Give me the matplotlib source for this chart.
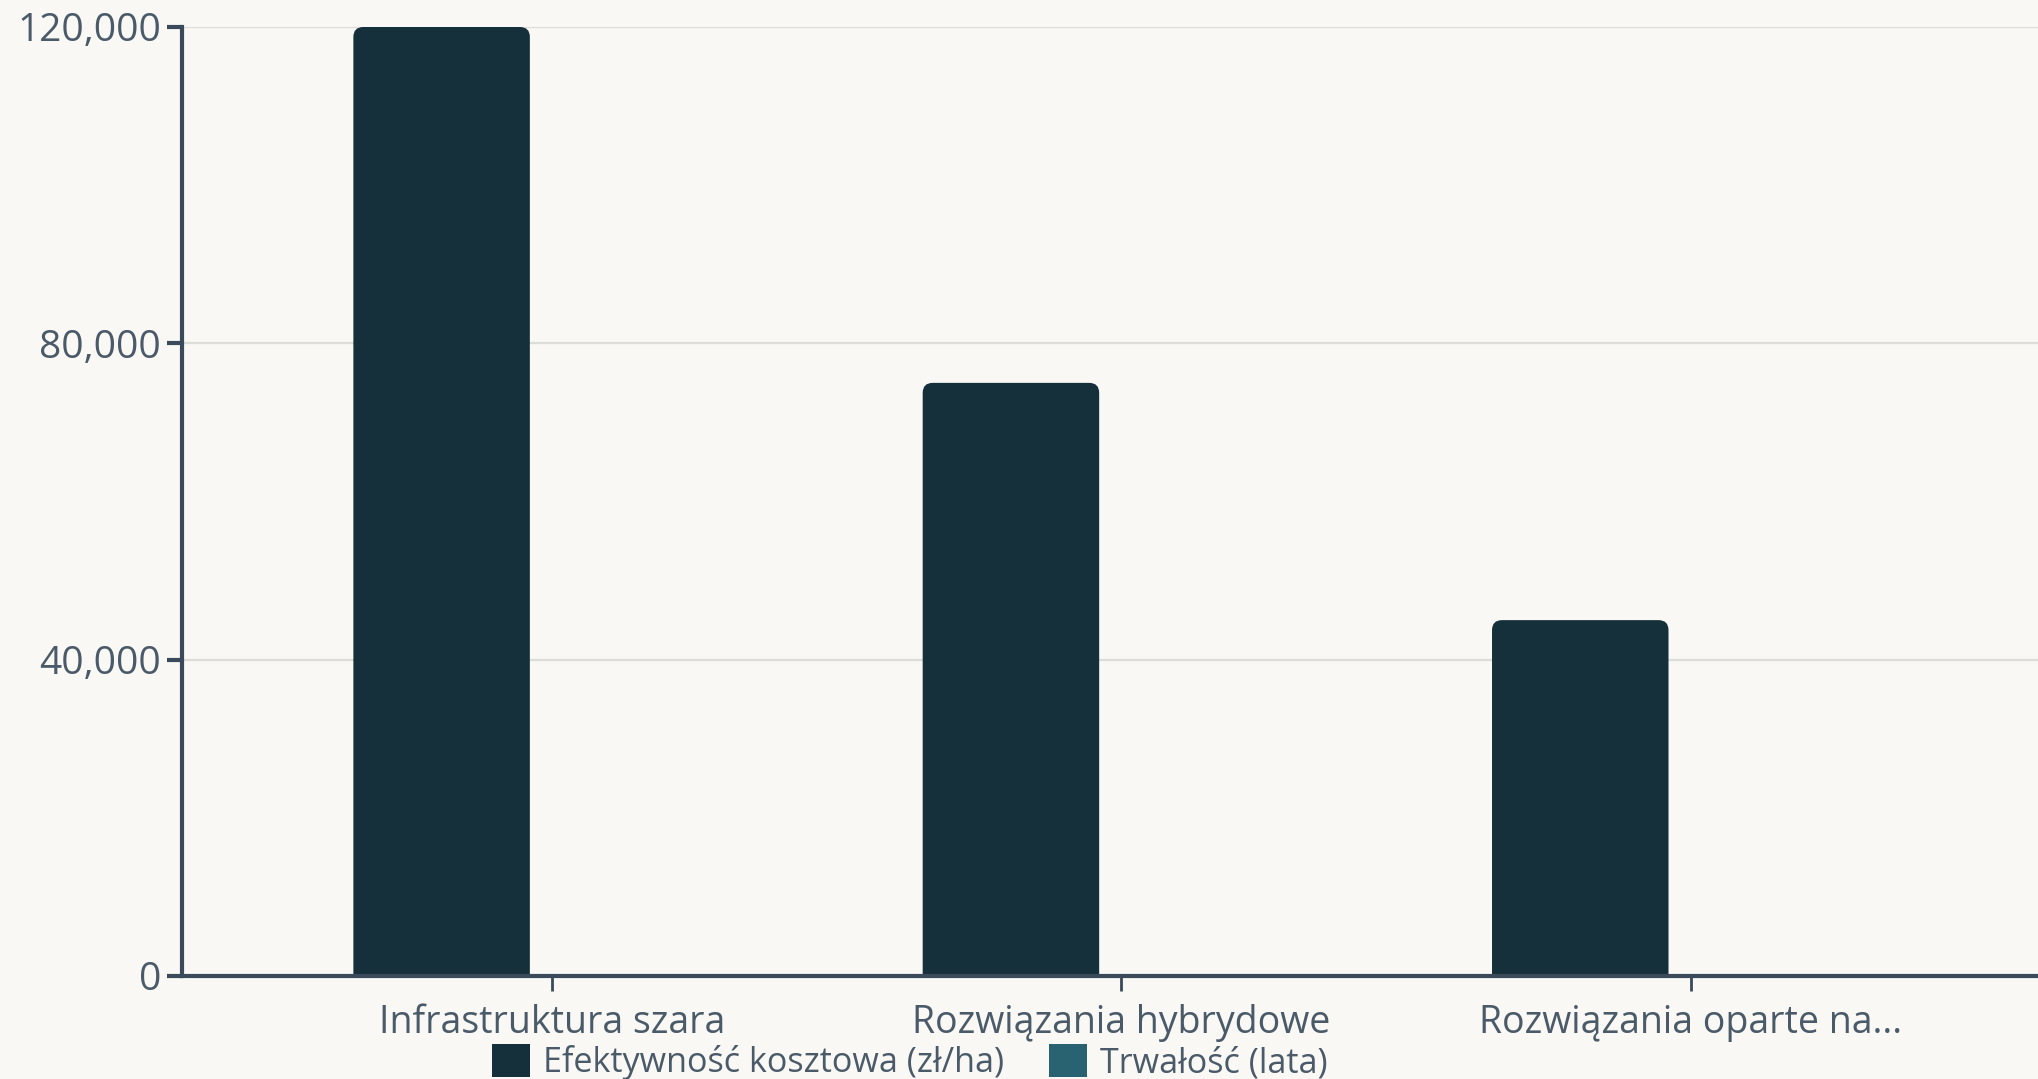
import matplotlib.pyplot as plt
from matplotlib.patches import FancyBboxPatch, Patch
from matplotlib.ticker import FuncFormatter

# ==============================
# Dane
# ==============================
kategorie = ["Infrastruktura szara", "Rozwiązania hybrydowe", "Rozwiązania oparte na..."]
efektywnosc = [120000, 75000, 45000]   # zł/ha
trwalosc = [50, 40, 30]                # lata (niewidoczne w tej skali)
serie = ["Efektywność kosztowa (zł/ha)", "Trwałość (lata)"]
kolory = ["#15303A", "#296371"]
y_ticks = [0, 40000, 80000, 120000]

tlo = "#F9F8F5"
kolor_osi = "#3B4A5A"
kolor_tekstu = "#4A5A68"

plt.rcParams['font.family'] = ['Open Sans', 'DejaVu Sans']

W, H = 2038, 1079
fig = plt.figure(figsize=(W / 100, H / 100), dpi=100, facecolor=tlo)
ax = fig.add_axes([182 / W, 1 - 976 / H, 1 - 182 / W, (976 - 27) / H])
ax.set_facecolor(tlo)

x = list(range(len(kategorie)))
szer = 0.31
przes = 0.194

ax.set_xlim(-0.65, 2.61)
ax.set_ylim(0, 120000)

# ==============================
# Słupki z zaokrąglonymi rogami
# ==============================
px_x = (2.61 + 0.65) / (W - 182)
px_y = 120000 / (976 - 27)
r_px = 10

def slupki(pozycje, wartosci, kolor):
    for xi, v in zip(pozycje, wartosci):
        if v <= 0:
            continue
        p = FancyBboxPatch((xi - szer / 2, -r_px * px_y), szer, v + r_px * px_y,
                           boxstyle="round,pad=0,rounding_size=%f" % (r_px * px_x),
                           mutation_aspect=px_y / px_x,
                           facecolor=kolor, edgecolor="none", zorder=2)
        ax.add_patch(p)

slupki([i - przes for i in x], efektywnosc, kolory[0])
slupki([i + przes for i in x], trwalosc, kolory[1])

# ==============================
# Osie
# ==============================
ax.set_yticks(y_ticks)
ax.yaxis.set_major_formatter(FuncFormatter(lambda v, p: f"{int(v):,}"))
ax.set_xticks(x)
ax.set_xticklabels(kategorie)

ax.grid(axis="y", color="#DCDCD8", linewidth=1.6, zorder=0)
ax.set_axisbelow(True)

for s in ["top", "right"]:
    ax.spines[s].set_visible(False)
for s in ["left", "bottom"]:
    ax.spines[s].set_color(kolor_osi)
    ax.spines[s].set_linewidth(3)
    ax.spines[s].set_zorder(3)

ax.tick_params(axis="y", length=11, width=3, color=kolor_osi, labelsize=28,
               labelcolor=kolor_tekstu, pad=4)
ax.tick_params(axis="x", length=11, width=2, color=kolor_osi, labelsize=27,
               labelcolor=kolor_tekstu, pad=9)

# ==============================
# Legenda
# ==============================
uchwyty = [Patch(facecolor=k, edgecolor="none") for k in kolory]
fig.legend(uchwyty, serie, loc="center", bbox_to_anchor=(910 / W, 1 - 1062 / H),
           ncol=2, frameon=False, fontsize=24.6, labelcolor=kolor_tekstu,
           handlelength=1.1, handleheight=1.1, handletextpad=0.4,
           columnspacing=1.3, borderpad=0)

fig.savefig("out.png", dpi=100, facecolor=tlo)
